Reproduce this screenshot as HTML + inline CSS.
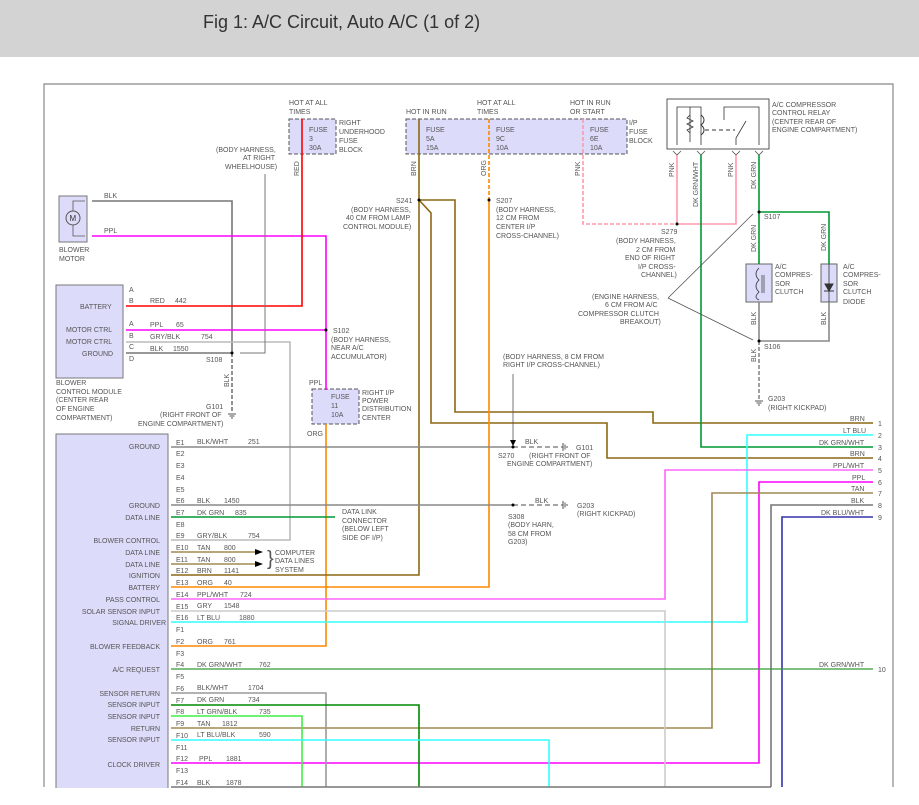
<!DOCTYPE html>
<html><head><meta charset="utf-8"><style>
html,body{margin:0;padding:0;background:#fff;}
svg{display:block}
text{font-family:"Liberation Sans",sans-serif;font-size:7px;fill:#555;}
</style></head><body>
<svg width="919" height="805" viewBox="0 0 919 805" xmlns="http://www.w3.org/2000/svg">
<rect x="0" y="0" width="919" height="57" fill="#d3d3d3"/>
<text x="203" y="28" style="font-size:18px;fill:#333">Fig 1: A/C Circuit, Auto A/C (1 of 2)</text>
<path d="M44 787 V84 H893 V787" fill="none" stroke="#888" stroke-width="1.2"/>

<rect x="59" y="196" width="28" height="46" fill="#dcdcfa" stroke="#777"/>
<circle cx="73" cy="218" r="7" fill="none" stroke="#555"/><text x="69.5" y="221" style="font-size:8px;fill:#333">M</text>
<path d="M73 211 V201 H85 M73 225 V236 H85" fill="none" stroke="#555" stroke-width="0.8"/>
<rect x="56" y="285" width="67" height="93" fill="#dcdcfa" stroke="#777"/>
<rect x="56" y="434" width="112" height="360" fill="#dcdcfa" stroke="#777"/>
<rect x="289" y="119" width="47" height="35" fill="#dcdcfa" stroke="#555" stroke-dasharray="4,2"/>
<rect x="406" y="119" width="221" height="35" fill="#dcdcfa" stroke="#555" stroke-dasharray="4,2"/>
<rect x="312" y="389" width="47" height="35" fill="#dcdcfa" stroke="#555" stroke-dasharray="4,2"/>
<rect x="667" y="99" width="102" height="50" fill="#fff" stroke="#555"/>
<rect x="746" y="264" width="26" height="38" fill="#dcdcfa" stroke="#666"/>
<rect x="821" y="264" width="16" height="38" fill="#dcdcfa" stroke="#666"/>
<path d="M824 291 L834 291 M829 291 L825 284 H833 Z" fill="#333" stroke="#333"/>
<path d="M829 264 V302" stroke="#333" stroke-width="0.8"/>
<path d="M759 268 C755 272 755 276 759 280 C755 284 755 288 759 292 C755 296 755 298 759 300" fill="none" stroke="#333" stroke-width="0.8"/>
<path d="M762 275 V293 M764 275 V293" stroke="#333" stroke-width="0.7"/>
<path d="M677 145 V107 H701 V145 M690 107 V142 M690 115 l-3 3 l6 3 l-6 3 l6 3 l-6 3 l3 3" fill="none" stroke="#333" stroke-width="0.8"/>
<path d="M701 115 C705 118 705 122 701 125 C705 128 705 132 701 135" fill="none" stroke="#333"/>
<path d="M705 130 H735" stroke="#333" stroke-dasharray="4,3"/>
<path d="M724 120 V107 H759 V145 M736 145 V138 L746 121" fill="none" stroke="#333" stroke-width="0.8"/>
<path d="M673 151 l4 4 l4 -4 M697 151 l4 4 l4 -4 M732 151 l4 4 l4 -4 M755 151 l4 4 l4 -4" fill="none" stroke="#555" stroke-width="0.8"/>

<g fill="none" stroke-width="1.6">
<path d="M92 201 H232 V353" stroke="#777"/>
<path d="M232 353 V413" stroke="#777" stroke-dasharray="4,2"/>
<path d="M92 236 H326 V390" stroke="#f0f" />
<path d="M326 424 V646 H171" stroke="#f80"/>
<path d="M126 306 H302 V119" stroke="#f00"/>
<path d="M126 330 H326" stroke="#f0f"/>
<path d="M126 342 H290 V540 H171" stroke="#bbb"/>
<path d="M126 353 H232" stroke="#777"/>
<path d="M265 174 V353 H240" stroke="#777" stroke-width="1"/>
<path d="M419 119 V575 H171" stroke="#8b6914"/>
<path d="M419 200 H455 V412 H653 V423 H873" stroke="#8b6914"/>
<path d="M419 200 L431 213 V423 H607 V458 H873" stroke="#8b6914"/>
<path d="M489 119 V200" stroke="#f80" stroke-dasharray="4,2"/>
<path d="M489 200 V587 H171" stroke="#f80"/>
<path d="M583 119 V224 H677" stroke="#f9a" stroke-dasharray="4,2"/>
<path d="M677 224 V155 M677 224 H736 V155" stroke="#f9a"/>
<path d="M701 155 V447 H873" stroke="#093"/>
<path d="M759 155 V264 M759 212 H829 V264" stroke="#093"/>
<path d="M759 302 V341 H829 V302" stroke="#888"/>
<path d="M759 341 V400" stroke="#888" stroke-dasharray="4,2"/>
<path d="M171 447 H513" stroke="#888"/>
<path d="M171 505 H513" stroke="#888"/>
<path d="M513 447 H563 M513 505 H563" stroke="#888" stroke-dasharray="5,3"/>
<path d="M171 517 H335" stroke="#093"/>
<path d="M171 552 H255 M171 564 H255" stroke="#a08850"/>
<path d="M873 435 H747 V622 H171" stroke="#3ff"/>
<path d="M873 470 H665 V599 H171" stroke="#f6f"/>
<path d="M873 482 H759 V763 H171" stroke="#f0f"/>
<path d="M873 493 H712 V728 H171" stroke="#a08850"/>
<path d="M873 505 H771 V787" stroke="#777"/>
<path d="M873 517 H782 V787" stroke="#33a"/>
<path d="M171 611 H665 V787" stroke="#ccc"/>
<path d="M171 669 H873" stroke="#393" stroke-width="1.2"/>
<path d="M171 693 H326 V787" stroke="#999"/>
<path d="M171 705 H419 V787" stroke="#080"/>
<path d="M171 716 H302 V787" stroke="#4e4"/>
<path d="M171 740 H549 V787" stroke="#3ff"/>
<path d="M171 787 H771" stroke="#777"/>
</g>
<g stroke="#555" stroke-width="0.8" fill="none">
<path d="M513 374 V442 M668 298 L753 214 M668 298 L753 340"/>
</g>
<path d="M510 440 L516 440 L513 446 Z M255 549 l8 3 l-8 3 Z M255 561 l8 3 l-8 3Z" fill="#000"/>
<g fill="#000"><circle cx="419" cy="200" r="1.5"/><circle cx="489" cy="200" r="1.5"/><circle cx="677" cy="224" r="1.5"/><circle cx="759" cy="212" r="1.5"/><circle cx="759" cy="341" r="1.5"/><circle cx="326" cy="330" r="1.5"/><circle cx="232" cy="353" r="1.5"/><circle cx="513" cy="447" r="1.5"/><circle cx="513" cy="505" r="1.5"/></g>
<path d="M228 414 H236 M229.5 416 H234.5 M231 418 H233 M755 401 H763 M756.5 403 H761.5 M758 405 H760 M563 443 V451 M565 444.5 V449.5 M567 446 V448 M563 501 V509 M565 502.5 V507.5 M567 504 V506" stroke="#555"/>
<rect x="0" y="788" width="919" height="17" fill="#fff"/>

<text x="104" y="198">BLK</text><text x="104" y="233">PPL</text>
<text x="59" y="252">BLOWER</text><text x="59" y="261">MOTOR</text>
<text x="129" y="292">A</text><text x="129" y="303">B</text><text x="129" y="326">A</text><text x="129" y="338">B</text><text x="129" y="349">C</text><text x="129" y="361">D</text>
<text x="80" y="309">BATTERY</text><text x="66" y="332">MOTOR CTRL</text><text x="66" y="344">MOTOR CTRL</text><text x="82" y="356">GROUND</text>
<text x="150" y="303">RED</text><text x="175" y="303">442</text>
<text x="150" y="327">PPL</text><text x="176" y="327">65</text>
<text x="150" y="339">GRY/BLK</text><text x="201" y="339">754</text>
<text x="150" y="351">BLK</text><text x="173" y="351">1550</text>
<text x="206" y="362">S108</text>
<text x="56" y="385">BLOWER</text><text x="56" y="394">CONTROL MODULE</text><text x="56" y="402">(CENTER REAR</text><text x="56" y="411">OF ENGINE</text><text x="56" y="420">COMPARTMENT)</text>
<text x="206" y="409">G101</text><text x="160" y="417">(RIGHT FRONT OF</text><text x="138" y="426">ENGINE COMPARTMENT)</text>
<text x="216" y="152">(BODY HARNESS,</text><text x="243" y="160">AT RIGHT</text><text x="225" y="169">WHEELHOUSE)</text>
<text x="289" y="105">HOT AT ALL</text><text x="289" y="114">TIMES</text>
<text x="309" y="132">FUSE</text><text x="309" y="141">3</text><text x="309" y="150">30A</text>
<text x="339" y="125">RIGHT</text><text x="339" y="134">UNDERHOOD</text><text x="339" y="143">FUSE</text><text x="339" y="152">BLOCK</text>
<text x="333" y="333">S102</text><text x="331" y="342">(BODY HARNESS,</text><text x="331" y="350">NEAR A/C</text><text x="331" y="359">ACCUMULATOR)</text>
<text x="309" y="385">PPL</text><text x="307" y="436">ORG</text>
<text x="331" y="399">FUSE</text><text x="331" y="408">11</text><text x="331" y="417">10A</text>
<text x="362" y="395">RIGHT I/P</text><text x="362" y="403">POWER</text><text x="362" y="411">DISTRIBUTION</text><text x="362" y="420">CENTER</text>
<text x="406" y="114">HOT IN RUN</text><text x="477" y="105">HOT AT ALL</text><text x="477" y="114">TIMES</text><text x="570" y="105">HOT IN RUN</text><text x="570" y="114">OR START</text>
<text x="426" y="132">FUSE</text><text x="426" y="141">5A</text><text x="426" y="150">15A</text>
<text x="496" y="132">FUSE</text><text x="496" y="141">9C</text><text x="496" y="150">10A</text>
<text x="590" y="132">FUSE</text><text x="590" y="141">6E</text><text x="590" y="150">10A</text>
<text x="629" y="125">I/P</text><text x="629" y="134">FUSE</text><text x="629" y="143">BLOCK</text>
<text x="396" y="203">S241</text><text x="351" y="212">(BODY HARNESS,</text><text x="346" y="220">40 CM FROM LAMP</text><text x="343" y="229">CONTROL MODULE)</text>
<text x="496" y="203">S207</text><text x="496" y="212">(BODY HARNESS,</text><text x="496" y="220">12 CM FROM</text><text x="496" y="229">CENTER I/P</text><text x="496" y="238">CROSS-CHANNEL)</text>
<text x="661" y="234">S279</text><text x="616" y="243">(BODY HARNESS,</text><text x="636" y="252">2 CM FROM</text><text x="625" y="260">END OF RIGHT</text><text x="638" y="269">I/P CROSS-</text><text x="641" y="277">CHANNEL)</text>
<text x="592" y="299">(ENGINE HARNESS,</text><text x="605" y="307">6 CM FROM A/C</text><text x="578" y="316">COMPRESSOR CLUTCH</text><text x="620" y="324">BREAKOUT)</text>
<text x="772" y="107">A/C COMPRESSOR</text><text x="772" y="115">CONTROL RELAY</text><text x="772" y="124">(CENTER REAR OF</text><text x="772" y="132">ENGINE COMPARTMENT)</text>
<text x="764" y="219">S107</text><text x="764" y="349">S106</text>
<text x="775" y="269">A/C</text><text x="775" y="277">COMPRES-</text><text x="775" y="286">SOR</text><text x="775" y="294">CLUTCH</text>
<text x="843" y="269">A/C</text><text x="843" y="277">COMPRES-</text><text x="843" y="286">SOR</text><text x="843" y="294">CLUTCH</text><text x="843" y="304">DIODE</text>
<text x="768" y="401">G203</text><text x="768" y="410">(RIGHT KICKPAD)</text>
<text x="503" y="359">(BODY HARNESS, 8 CM FROM</text><text x="503" y="367">RIGHT I/P CROSS-CHANNEL)</text>
<text x="525" y="444">BLK</text><text x="576" y="450">G101</text><text x="498" y="458">S270</text><text x="529" y="458">(RIGHT FRONT OF</text><text x="507" y="466">ENGINE COMPARTMENT)</text>
<text x="535" y="503">BLK</text><text x="577" y="508">G203</text><text x="577" y="516">(RIGHT KICKPAD)</text>
<text x="508" y="519">S308</text><text x="508" y="527">(BODY HARN,</text><text x="508" y="536">58 CM FROM</text><text x="508" y="544">G203)</text>
<text x="342" y="514">DATA LINK</text><text x="342" y="523">CONNECTOR</text><text x="342" y="531">(BELOW LEFT</text><text x="342" y="540">SIDE OF I/P)</text>
<text x="275" y="555">COMPUTER</text><text x="275" y="563">DATA LINES</text><text x="275" y="572">SYSTEM</text>
<text x="267" y="565" style="font-size:20px;fill:#555">}</text>
<g transform="rotate(-90)">
<text x="-176" y="299">RED</text><text x="-176" y="416">BRN</text><text x="-176" y="486">ORG</text><text x="-176" y="580">PNK</text>
<text x="-177" y="674">PNK</text><text x="-207" y="698">DK GRN/WHT</text><text x="-177" y="733">PNK</text><text x="-189" y="756">DK GRN</text>
<text x="-252" y="756">DK GRN</text><text x="-251" y="826">DK GRN</text><text x="-325" y="756">BLK</text><text x="-325" y="826">BLK</text><text x="-362" y="756">BLK</text><text x="-387" y="229">BLK</text>
</g>
<g><text x="850" y="421">BRN</text><text x="843" y="433">LT BLU</text><text x="819" y="445">DK GRN/WHT</text><text x="850" y="456">BRN</text><text x="833" y="468">PPL/WHT</text><text x="852" y="480">PPL</text><text x="851" y="491">TAN</text><text x="851" y="503">BLK</text><text x="821" y="515">DK BLU/WHT</text><text x="819" y="667">DK GRN/WHT</text></g>
<g><text x="878" y="426">1</text><text x="878" y="438">2</text><text x="878" y="450">3</text><text x="878" y="461">4</text><text x="878" y="473">5</text><text x="878" y="485">6</text><text x="878" y="496">7</text><text x="878" y="508">8</text><text x="878" y="520">9</text><text x="878" y="672">10</text></g>
<g>
<text x="176" y="445">E1</text><text x="176" y="456">E2</text><text x="176" y="468">E3</text><text x="176" y="480">E4</text><text x="176" y="492">E5</text><text x="176" y="503">E6</text><text x="176" y="515">E7</text><text x="176" y="527">E8</text><text x="176" y="538">E9</text><text x="176" y="550">E10</text><text x="176" y="562">E11</text><text x="176" y="573">E12</text><text x="176" y="585">E13</text><text x="176" y="597">E14</text><text x="176" y="609">E15</text><text x="176" y="620">E16</text><text x="176" y="632">F1</text><text x="176" y="644">F2</text><text x="176" y="656">F3</text><text x="176" y="667">F4</text><text x="176" y="679">F5</text><text x="176" y="691">F6</text><text x="176" y="703">F7</text><text x="176" y="714">F8</text><text x="176" y="726">F9</text><text x="176" y="738">F10</text><text x="176" y="750">F11</text><text x="176" y="761">F12</text><text x="176" y="773">F13</text><text x="176" y="785">F14</text>
<text x="197" y="444">BLK/WHT</text><text x="248" y="444">251</text>
<text x="197" y="503">BLK</text><text x="224" y="503">1450</text>
<text x="197" y="515">DK GRN</text><text x="235" y="515">835</text>
<text x="197" y="538">GRY/BLK</text><text x="248" y="538">754</text>
<text x="197" y="550">TAN</text><text x="224" y="550">800</text>
<text x="197" y="562">TAN</text><text x="224" y="562">800</text>
<text x="197" y="573">BRN</text><text x="224" y="573">1141</text>
<text x="197" y="585">ORG</text><text x="224" y="585">40</text>
<text x="197" y="597">PPL/WHT</text><text x="240" y="597">724</text>
<text x="197" y="608">GRY</text><text x="224" y="608">1548</text>
<text x="197" y="620">LT BLU</text><text x="239" y="620">1880</text>
<text x="197" y="644">ORG</text><text x="224" y="644">761</text>
<text x="197" y="667">DK GRN/WHT</text><text x="259" y="667">762</text>
<text x="197" y="690">BLK/WHT</text><text x="248" y="690">1704</text>
<text x="197" y="702">DK GRN</text><text x="248" y="702">734</text>
<text x="197" y="714">LT GRN/BLK</text><text x="259" y="714">735</text>
<text x="197" y="726">TAN</text><text x="222" y="726">1812</text>
<text x="197" y="737">LT BLU/BLK</text><text x="259" y="737">590</text>
<text x="199" y="761">PPL</text><text x="226" y="761">1881</text>
<text x="197" y="785">BLK</text><text x="226" y="785">1878</text>
</g>
<g>
<text x="160" y="449" text-anchor="end">GROUND</text><text x="160" y="508" text-anchor="end">GROUND</text><text x="160" y="520" text-anchor="end">DATA LINE</text>
<text x="160" y="543" text-anchor="end">BLOWER CONTROL</text><text x="160" y="555" text-anchor="end">DATA LINE</text><text x="160" y="567" text-anchor="end">DATA LINE</text><text x="160" y="578" text-anchor="end">IGNITION</text><text x="160" y="590" text-anchor="end">BATTERY</text><text x="160" y="602" text-anchor="end">PASS CONTROL</text><text x="160" y="614" text-anchor="end">SOLAR SENSOR INPUT</text><text x="166" y="625" text-anchor="end">SIGNAL DRIVER</text>
<text x="160" y="649" text-anchor="end">BLOWER FEEDBACK</text><text x="160" y="672" text-anchor="end">A/C REQUEST</text><text x="160" y="696" text-anchor="end">SENSOR RETURN</text><text x="160" y="707" text-anchor="end">SENSOR INPUT</text><text x="160" y="719" text-anchor="end">SENSOR INPUT</text><text x="160" y="731" text-anchor="end">RETURN</text><text x="160" y="742" text-anchor="end">SENSOR INPUT</text><text x="160" y="767" text-anchor="end">CLOCK DRIVER</text>
</g>
</svg>
</body></html>
